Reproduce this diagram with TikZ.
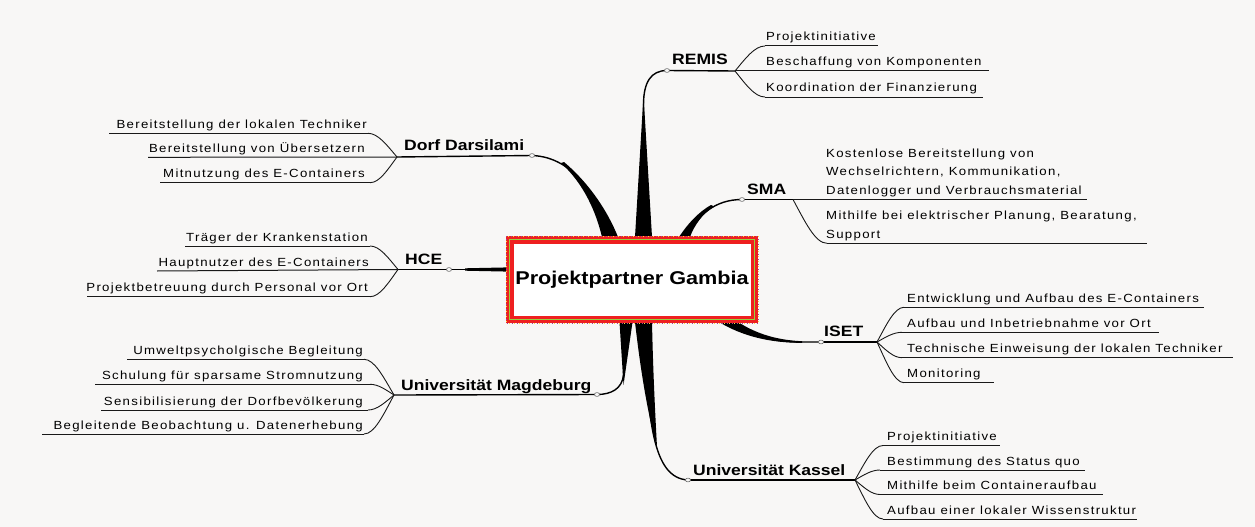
\documentclass[tikz,border=0pt]{standalone}
\usepackage{fontspec}
\setmainfont{Liberation Sans}
\newfontfamily\itemfont[LetterSpace=11,FakeStretch=1.12]{Liberation Sans}
\newfontfamily\labelfont[FakeStretch=1.17]{Liberation Sans}
\usetikzlibrary{calc}
\definecolor{bg}{RGB}{248,247,246}
\definecolor{boxred}{RGB}{238,32,32}
\definecolor{dotyel}{RGB}{250,215,60}
\definecolor{dotvio}{RGB}{160,70,150}
\definecolor{boxgreen}{RGB}{150,210,60}
\tikzset{
  itemtext/.style={inner sep=0pt, font=\itemfont\fontsize{11.8}{13}\selectfont, text=black},
  labeltext/.style={inner sep=0pt, font=\labelfont\bfseries\fontsize{15}{17}\selectfont, text=black},
  mainline/.style={line width=1.4pt, black},
  subline/.style={line width=1pt, black!90},
  fanline/.style={line width=0.9pt, black!90},
  knob/.style={draw=black!60, fill=bg, line width=0.6pt},
}
\newcommand\fanto[2]{\draw[fanline] let \p1=(#1), \p2=(#2) in (\p1) .. controls ({\x1+0.35*(\x2-\x1)},{\y1+0.5*(\y2-\y1)}) and ({\x2-0.35*(\x2-\x1)},\y2) .. (\p2);}
\newcommand\subln[4]{\coordinate (#1a) at (#2,#4); \coordinate (#1b) at (#3,#4); \draw[subline] (#1a) -- (#1b);}
\newcommand\itemL[4]{\node[itemtext,anchor=base east] (#1) at (#2,#3) {#4};}
\newcommand\itemR[4]{\node[itemtext,anchor=base west] (#1) at (#2,#3) {#4};}
\begin{document}
\begin{tikzpicture}[x=1pt,y=-1pt]
\fill[bg] (0,0) rectangle (1255,527);
\useasboundingbox (0,0) rectangle (1255,527);

% knobs and junctions
\coordinate (Dc) at (532,155.5);
\coordinate (Hc) at (449,269.5);
\coordinate (Mc) at (597,394.5);
\coordinate (Rc) at (667,70.5);
\coordinate (Sc) at (742,199.5);
\coordinate (Ic) at (821,342);
\coordinate (Kc) at (688,480);
\coordinate (Dj) at (397,157);
\coordinate (Hj) at (398,269.5);
\coordinate (Mj) at (394,395);
\coordinate (Rj) at (735,71);
\coordinate (Sj) at (793,199.5);
\coordinate (Ij) at (877,342);
\coordinate (Kj) at (855,480);

% tapered trunks
\fill[black] (602,237) .. controls (596,212) and (584,184) .. (561,163) -- (564,162) .. controls (590,184) and (608,212) .. (618,237) -- cycle;
\draw[mainline] (Dc) .. controls (575,157) and (600,200) .. (610,237);

\fill[black] (635,237) -- (643.5,95) -- (652,237) -- cycle;
\draw[mainline] (643.5,237) -- (643.5,105) .. controls (643.5,82) and (651,70.5) .. (Rc);

\fill[black] (679,237) .. controls (687,225) and (697,213) .. (711,205) -- (714,206.5) .. controls (702,214) and (694,226) .. (690,237) -- cycle;
\draw[mainline] (685,237) .. controls (698,215) and (715,199.5) .. (Sc);

\fill[black] (719,322) .. controls (742,336) and (770,343) .. (802,342.8) -- (802,341.2) .. controls (772,340) and (752,331) .. (738,322) -- cycle;
\draw[mainline] (728,322) .. controls (748,335) and (772,342) .. (802,342) -- (Ic);

\fill[black] (619.5,322) -- (623.5,385) -- (632.5,322) -- cycle;
\draw[mainline] (626,322) -- (623.5,375) .. controls (622,389) and (611,394.5) .. (Mc);

\fill[black] (635,322) .. controls (641,375) and (649,420) .. (657,447) .. controls (655,410) and (653,370) .. (652,322) -- cycle;
\draw[mainline] (643.5,322) .. controls (648,420) and (652,478) .. (Kc);

\fill[black] (465,268.3) -- (508,267.4) -- (508,271.6) -- (465,270.7) -- cycle;

% label lines
\draw[mainline] (Dj) -- (Dc);
\draw[mainline] (Hj) -- (Hc) -- (508,269.5);
\draw[mainline] (Mj) -- (Mc);
\draw[mainline] (Rc) -- (Rj);
\draw[mainline] (Sc) -- (Sj);
\draw[mainline] (Ic) -- (Ij);
\draw[mainline] (Kc) -- (Kj);

% central node
\node[draw=boxred, line width=7.5pt, fill=white, minimum width=244.5pt, minimum height=79.5pt, inner sep=0pt,
      font=\labelfont\bfseries\fontsize{18.5}{20}\selectfont] (hub) at (632,279.5) {Projektpartner Gambia};
\draw[dotyel, line width=1pt, dash pattern=on 1pt off 4pt] (hub.north west) rectangle (hub.south east);
\draw[dotvio, line width=0.8pt, dash pattern=on 0.8pt off 4.2pt, dash phase=2.5pt] (hub.north west) rectangle (hub.south east);
\draw[boxgreen, line width=0.6pt] ([xshift=3.7pt,yshift=-3.7pt]hub.north west) rectangle ([xshift=-3.7pt,yshift=3.7pt]hub.south east);

% Dorf Darsilami
\node[labeltext,anchor=base west] (dorf) at (404,150) {Dorf Darsilami};
\subln{d1}{109}{368}{133.3} \fanto{Dj}{d1b}
\coordinate (d2a) at (148,157.3); \draw[subline] (d2a) -- (Dj);
\subln{d3}{160}{370}{182.7} \fanto{Dj}{d3b}
\itemL{dt1}{367}{128.3}{Bereitstellung der lokalen Techniker}
\itemL{dt2}{365}{152.5}{Bereitstellung von Übersetzern}
\itemL{dt3}{365}{177.7}{Mitnutzung des E-Containers}

% HCE
\node[labeltext,anchor=base west] (hce) at (405,264) {HCE};
\subln{h1}{185}{370}{246} \fanto{Hj}{h1b}
\coordinate (h2a) at (157,271); \draw[subline] (h2a) -- (Hj);
\subln{h3}{87}{370}{296.7} \fanto{Hj}{h3b}
\itemL{ht1}{368}{241}{Träger der Krankenstation}
\itemL{ht2}{369}{266.2}{Hauptnutzer des E-Containers}
\itemL{ht3}{368}{291.7}{Projektbetreuung durch Personal vor Ort}

% Universitaet Magdeburg
\node[labeltext,anchor=base west] (mag) at (401,390) {Universität Magdeburg};
\subln{m1}{127}{364}{359.3} \fanto{Mj}{m1b}
\subln{m2}{95}{370}{384.3} \fanto{Mj}{m2b}
\subln{m3}{101}{368}{410} \fanto{Mj}{m3b}
\subln{m4}{42}{364}{434} \fanto{Mj}{m4b}
\itemL{mt1}{363}{354.3}{Umweltpsycholgische Begleitung}
\itemL{mt2}{363}{379.3}{Schulung für sparsame Stromnutzung}
\itemL{mt3}{363}{405}{Sensibilisierung der Dorfbevölkerung}
\itemL{mt4}{363}{429}{Begleitende Beobachtung u. Datenerhebung}

% REMIS
\node[labeltext,anchor=base west] (remis) at (672,64.5) {REMIS};
\subln{r1}{765}{878}{46} \fanto{Rj}{r1a}
\coordinate (r2b) at (989,71); \draw[subline] (Rj) -- (r2b);
\subln{r3}{765}{983}{97} \fanto{Rj}{r3a}
\itemR{rt1}{766}{41}{Projektinitiative}
\itemR{rt2}{766}{66}{Beschaffung von Komponenten}
\itemR{rt3}{766}{92}{Koordination der Finanzierung}

% SMA
\node[labeltext,anchor=base west] (sma) at (747,194) {SMA};
\coordinate (s1b) at (1087,199.5); \draw[subline] (Sj) -- (s1b);
\subln{s2}{827}{1147}{243.3} \fanto{Sj}{s2a}
\itemR{st1}{826}{157.3}{Kostenlose Bereitstellung von}
\itemR{st2}{826}{175.8}{Wechselrichtern, Kommunikation,}
\itemR{st3}{826}{194.3}{Datenlogger und Verbrauchsmaterial}
\itemR{st4}{826}{219.8}{Mithilfe bei elektrischer Planung, Bearatung,}
\itemR{st5}{826}{238.3}{Support}

% ISET
\node[labeltext,anchor=base west] (iset) at (824,336) {ISET};
\subln{i1}{904}{1204}{307.3} \fanto{Ij}{i1a}
\subln{i2}{902}{1159}{332.3} \fanto{Ij}{i2a}
\subln{i3}{902}{1233}{357.7} \fanto{Ij}{i3a}
\subln{i4}{904}{994}{382.7} \fanto{Ij}{i4a}
\itemR{it1}{907}{302.3}{Entwicklung und Aufbau des E-Containers}
\itemR{it2}{907}{327.3}{Aufbau und Inbetriebnahme vor Ort}
\itemR{it3}{907}{352.7}{Technische Einweisung der lokalen Techniker}
\itemR{it4}{907}{377.7}{Monitoring}

% Universitaet Kassel
\node[labeltext,anchor=base west] (kas) at (693,475) {Universität Kassel};
\subln{k1}{883}{1000}{445.5} \fanto{Kj}{k1a}
\subln{k2}{880}{1085}{470} \fanto{Kj}{k2a}
\subln{k3}{880}{1103}{494.5} \fanto{Kj}{k3a}
\subln{k4}{883}{1137}{519} \fanto{Kj}{k4a}
\itemR{kt1}{887}{440.5}{Projektinitiative}
\itemR{kt2}{887}{465}{Bestimmung des Status quo}
\itemR{kt3}{887}{489.5}{Mithilfe beim Containeraufbau}
\itemR{kt4}{887}{514}{Aufbau einer lokaler Wissenstruktur}

% knobs
\foreach \c in {Dc,Hc,Mc,Rc,Sc,Ic,Kc} \draw[knob] (\c) ellipse [x radius=2.6, y radius=1.9];
\end{tikzpicture}
\end{document}
